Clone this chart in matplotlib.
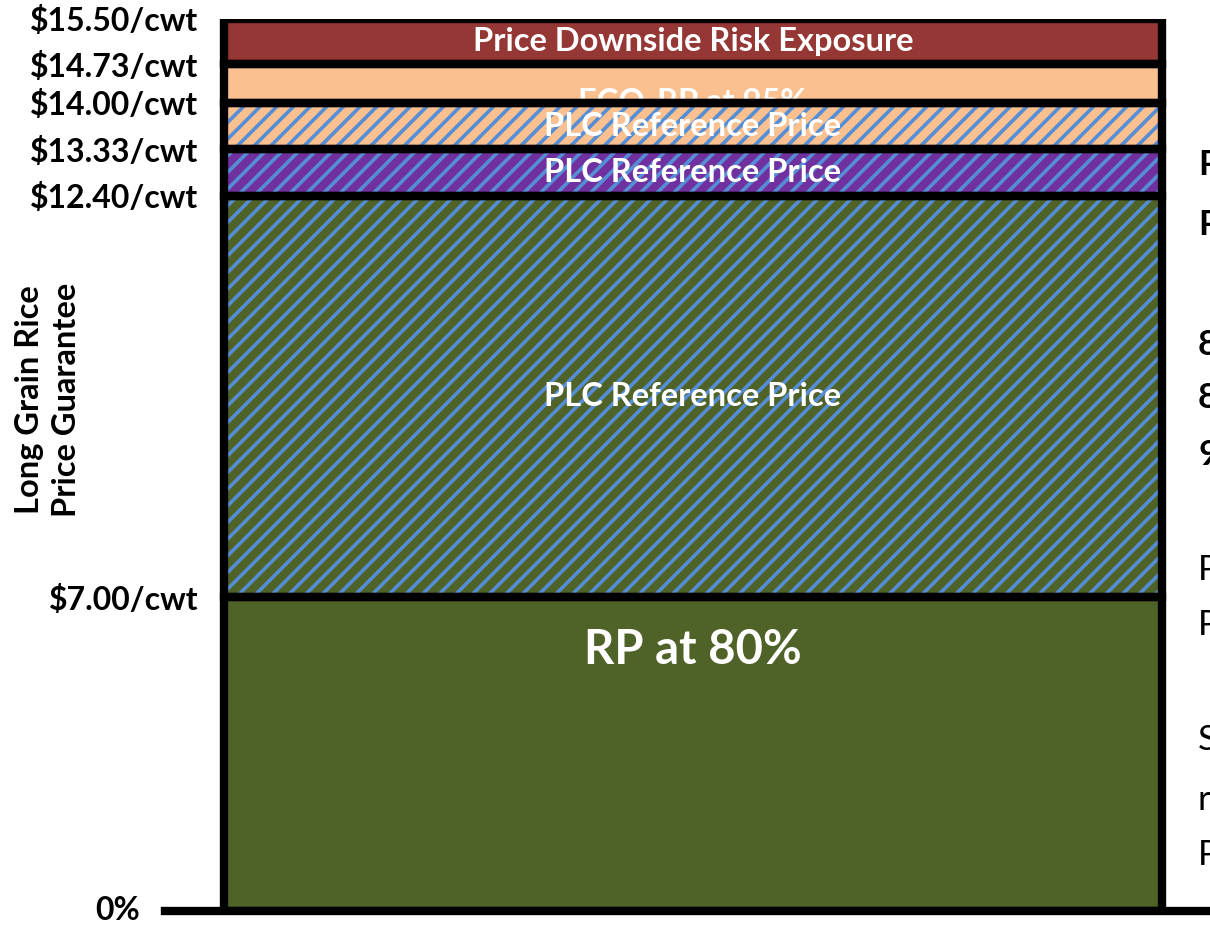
import matplotlib
matplotlib.use('Agg')
import matplotlib.pyplot as plt
import matplotlib.transforms as mtransforms
import numpy as np

plt.rcParams['font.family'] = ['Lato', 'DejaVu Sans']
plt.rcParams['hatch.linewidth'] = 2.6

# segments of the single stacked bar, bottom to top (share of bar height, %)
segments = ['RP at 80%', 'PLC Reference Price', 'PLC Reference Price',
            'PLC Reference Price', 'ECO-RP at 95%', 'Price Downside Risk Exposure']
heights = [35.2, 45.0, 5.2, 5.2, 4.3, 5.1]
face_colors = ['#4F6228', '#4F6228', '#7030A0', '#FAC090', '#FAC090', '#953735']
hatched = [False, True, True, True, False, False]
hatch_color = '#558ED5'

# price labels at each segment boundary (from bottom)
boundary_labels = ['$7.00/cwt', '$12.40/cwt', '$13.33/cwt', '$14.00/cwt',
                   '$14.73/cwt', '$15.50/cwt']
# clipped text on the right edge of the slide
right_texts = [('P', 'bold', 165), ('P', 'bold', 225), ('8', 'bold', 345),
               ('8', 'bold', 398), ('9', 'bold', 455), ('P', 'normal', 570),
               ('P', 'normal', 625), ('S', 'normal', 740), ('r', 'normal', 800),
               ('P', 'normal', 855)]

fig = plt.figure(figsize=(12.1, 9.25), dpi=100)
ax = fig.add_axes([165 / 1210, 14 / 925, 1060 / 1210, 892 / 925])

xc, w = 0.498, 0.885
bottoms = np.concatenate([[0], np.cumsum(heights)[:-1]])
total = sum(heights)

for i, (h, b, fc, hat) in enumerate(zip(heights, bottoms, face_colors, hatched)):
    z = 2 if i >= 4 else 3
    ax.bar(xc, h, w, bottom=b, color=fc, hatch='//' if hat else None,
           edgecolor=hatch_color if hat else fc, linewidth=0, zorder=z)
    ax.bar(xc, h, w, bottom=b, color='none', edgecolor='black',
           linewidth=6, zorder=4)

# segment labels
lab_kw = dict(ha='center', va='center', color='white', fontweight='bold')
ax.text(xc, heights[0] * 0.83, segments[0], fontsize=34, zorder=5, **lab_kw)
for i in [1, 2, 3]:
    ax.text(xc, bottoms[i] + heights[i] / 2, segments[i], fontsize=23.5,
            zorder=5, **lab_kw)
# ECO label sits low in its band and is partly covered by the band beneath
ax.text(xc, bottoms[4], segments[4], fontsize=23.5, zorder=2.5, **lab_kw)
ax.text(xc, bottoms[5] + heights[5] / 2, segments[5], fontsize=23.5,
        zorder=5, **lab_kw)

ax.set_xlim(0, 1)
ax.set_ylim(0, total)
for s in ['left', 'right', 'top']:
    ax.spines[s].set_visible(False)
ax.spines['bottom'].set_linewidth(6)
ax.spines['bottom'].set_zorder(4)
ax.set_xticks([])

ticks = np.cumsum(heights)
ax.set_yticks(ticks)
ax.set_yticklabels(boundary_labels, fontsize=23, fontweight='bold')
ax.tick_params(axis='y', length=0, pad=-24)

trans = mtransforms.blended_transform_factory(fig.transFigure, ax.transData)
ax.text(140 / 1210, 0, '0%', transform=trans, ha='right', va='center',
        fontsize=23, fontweight='bold')

fig.text(48 / 1210, 1 - 400 / 925, 'Long Grain Rice\nPrice Guarantee', rotation=90,
         ha='center', va='center', fontsize=23.5, fontweight='bold',
         linespacing=1.3, multialignment='center')

for t, wgt, yp in right_texts:
    fig.text(1198 / 1210, 1 - yp / 925, t, ha='left', va='center',
             fontsize=25, fontweight=wgt)

fig.savefig('out.png', dpi=100)
